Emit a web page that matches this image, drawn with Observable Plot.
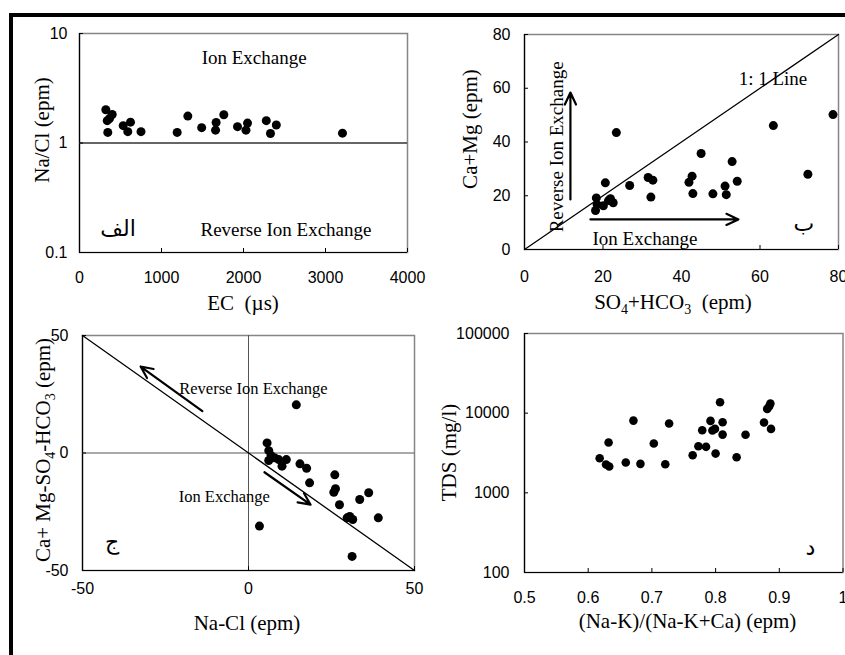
<!DOCTYPE html>
<html><head><meta charset="utf-8">
<script src="https://cdn.jsdelivr.net/npm/d3@7"></script>
<script src="https://cdn.jsdelivr.net/npm/@observablehq/plot@0.6"></script>
<style>
html,body{margin:0;padding:0;background:#fff;}
#wrap{position:relative;width:845px;height:655px;overflow:hidden;background:#fff;}
#wrap svg{position:absolute;left:0;top:0;}
.bt{position:absolute;left:9px;top:13px;width:836px;height:4px;background:#000;}
.bl{position:absolute;left:9px;top:13px;width:4px;height:642px;background:#000;}
</style></head><body><div id="wrap"><div class="bt"></div><div class="bl"></div></div>
<script>
// ---------- data ----------
// Panel الف : Na/Cl vs EC
const ecA   = [321, 399, 338, 345, 366, 533, 622, 589, 750, 1191, 1321, 1490, 1666, 1659, 1760, 1927, 2049, 2030, 2278, 2400, 2329, 3207];
const naClA = [2.01, 1.82, 1.60, 1.25, 1.67, 1.44, 1.55, 1.27, 1.27, 1.25, 1.76, 1.38, 1.54, 1.31, 1.81, 1.41, 1.52, 1.31, 1.60, 1.46, 1.22, 1.23];
const xTicksA = [0, 1000, 2000, 3000, 4000];
const yTicksA = [0.1, 1, 10];

// Panel ب : Ca+Mg vs SO4+HCO3
const so4hco3B = [23.4, 63.4, 78.6, 45.0, 52.9, 72.2, 31.5, 32.7, 26.8, 20.6, 42.7, 41.9, 54.2, 51.1, 42.9, 48.0, 51.4, 32.2, 18.3, 18.1, 18.5, 20.1, 21.9, 22.6, 21.4];
const caMgB    = [43.5, 46.1, 50.2, 35.7, 32.7, 28.0, 26.8, 25.8, 23.8, 24.8, 27.3, 25.0, 25.4, 23.6, 20.8, 20.7, 20.4, 19.5, 19.2, 14.5, 16.7, 16.3, 18.9, 17.4, 18.2];
const ticksB = [0, 20, 40, 60, 80];
const lineB = [0, 80];

// Panel ج : (Ca+Mg-SO4-HCO3) vs (Na-Cl)
const naClC = [14.4, 5.6, 6.1, 6.8, 6.1, 7.8, 9.1, 10.1, 11.4, 15.5, 17.5, 18.4, 26.0, 26.2, 25.7, 27.4, 33.5, 36.2, 39.1, 29.7, 30.5, 31.4, 31.2, 3.3];
const cmshC = [20.5, 4.3, 1.0, -1.1, -3.2, -2.0, -2.8, -5.6, -2.8, -4.6, -6.5, -12.7, -9.3, -15.2, -16.7, -22.0, -19.8, -16.9, -27.6, -27.6, -27.0, -28.3, -44.0, -31.1];
const ticksC = [-50, 0, 50];
const lineCx = [-50, 50];
const lineCy = [50, -50];

// Panel د : TDS vs (Na-K)/(Na-K+Ca)
const ratioD = [0.618, 0.628, 0.633, 0.632, 0.659, 0.671, 0.682, 0.703, 0.721, 0.727, 0.764, 0.773, 0.785, 0.779, 0.792, 0.795, 0.799, 0.800, 0.807, 0.811, 0.811, 0.833, 0.847, 0.876, 0.881, 0.886, 0.887, 0.884];
const tdsD   = [2717, 2265, 2138, 4275, 2398, 8070, 2311, 4160, 2286, 7420, 2965, 3848, 3780, 6110, 8000, 6050, 6350, 3110, 13700, 7690, 5380, 2800, 5350, 7620, 11320, 13180, 6350, 12100];
const xTicksD = [0.5, 0.6, 0.7, 0.8, 0.9, 1];
const yTicksD = [100, 1000, 10000, 100000];

// annotations (data coordinates)
const notesA = [{x: 2130, y: 6.0, t: "Ion Exchange"}, {x: 2518, y: 0.161, t: "Reverse Ion Exchange"}];
const letterA = [{x: 470, y: 0.164, t: "الف"}];
const notesB = [{x: 63.3, y: 63.3, t: "1: 1 Line", r: 0}, {x: 30.7, y: 4.0, t: "Ion Exchange", r: 0}, {x: 8.3, y: 38.2, t: "Reverse Ion Exchange", r: -90}];
const letterB = [{x: 71.2, y: 9.6, t: "ب"}];
const arrowsB = [{x1: 11.7, y1: 18.6, x2: 11.7, y2: 58.4}, {x1: 16.8, y1: 11.2, x2: 54.5, y2: 11.2}];
const notesC = [{x: 1.5, y: 27.3, t: "Reverse Ion Exchange"}, {x: -7.3, y: -18.8, t: "Ion Exchange"}];
const letterC = [{x: -41.1, y: -38, t: "ج"}];
const arrowsC = [{x1: -13.9, y1: 17.8, x2: -32.5, y2: 36.8}, {x1: 4.8, y1: -8.2, x2: 18.7, y2: -22}];
const letterD = [{x: 0.949, y: 202, t: "د"}];

// ---------- drawing ----------
const W = 845, H = 655;
const SANS = "Liberation Sans, Arial, sans-serif";
const SERIF = "Liberation Serif, 'Times New Roman', serif";
const ARAB = "'DejaVu Sans', 'Noto Sans', sans-serif";
const fmt = d => String(d);

function axes(xT, yT, xPad, yPad) {
  return [
    Plot.axisX(xT, {tickSize: 4, dy: -4, tickFormat: () => "", label: null}),
    Plot.axisY(yT, {tickSize: 4, dx: 4, tickFormat: () => "", label: null}),
    Plot.axisX(xT, {tickSize: 0, tickPadding: xPad, tickFormat: fmt, fontSize: 16, fontFamily: SANS, fill: "#000", label: null}),
    Plot.axisY(yT, {tickSize: 0, tickPadding: yPad, tickFormat: fmt, fontSize: 16, fontFamily: SANS, fill: "#000", label: null})
  ];
}
function pts(xs, ys) { return xs.map((x, i) => ({x, y: ys[i]})); }
function title(svg, x, y, parts, rotate) {
  const t = d3.select(svg).append("text")
    .attr("transform", `translate(${x},${y})` + (rotate ? ` rotate(${rotate})` : ""))
    .attr("text-anchor", "middle")
    .attr("font-family", SERIF).attr("font-size", 21).attr("fill", "#000")
    .style("white-space", "pre");
  let sub = false;
  for (const p of parts) {
    const isSub = Array.isArray(p);
    const s = t.append("tspan").text(isSub ? p[0] : p);
    if (isSub && !sub) { s.attr("dy", 5).attr("font-size", 14); sub = true; }
    else if (isSub) { s.attr("font-size", 14); }
    else if (sub) { s.attr("dy", -5); sub = false; }
  }
}
function frame(xmin, ymin) {
  return [
    Plot.frame({stroke: "#858585", strokeWidth: 1.5}),
    Plot.ruleX([xmin], {stroke: "#000", strokeWidth: 1.2}),
    Plot.ruleY([ymin], {stroke: "#000", strokeWidth: 1.2})
  ];
}
const base = {width: W, height: H, style: {background: "transparent", overflow: "visible"}};
const wrap = document.getElementById("wrap");

// Panel A
const pA = Plot.plot({...base,
  marginLeft: 79, marginRight: W - 407, marginTop: 33, marginBottom: H - 252,
  x: {domain: [0, 4000], label: null},
  y: {type: "log", domain: [0.1, 10], label: null},
  marks: [
    ...frame(0, 0.1),
    Plot.ruleY([1], {stroke: "#333", strokeWidth: 1.3}),
    ...axes(xTicksA, yTicksA, 19, 12),
    Plot.dot(pts(ecA, naClA), {x: "x", y: "y", r: 4.5, fill: "#000"}),
    Plot.text(notesA, {x: "x", y: "y", text: "t", fontFamily: SERIF, fontSize: 19, fill: "#000", textAnchor: "middle", lineAnchor: "middle"}),
    Plot.text(letterA, {x: "x", y: "y", text: "t", fontFamily: ARAB, fontSize: 22, fill: "#000", textAnchor: "middle", lineAnchor: "middle"})
  ]
});
title(pA, 243, 310, ["EC  (µs)"]);
title(pA, 48.5, 130, ["Na/Cl (epm)"], -90);
wrap.appendChild(pA);

// Panel B
const pB = Plot.plot({...base,
  marginLeft: 524, marginRight: W - 838, marginTop: 34, marginBottom: H - 249,
  x: {domain: [0, 80], label: null},
  y: {domain: [0, 80], label: null},
  marks: [
    ...frame(0, 0),
    ...axes(ticksB, ticksB, 21, 14),
    Plot.line(lineB, {x: d => d, y: d => d, stroke: "#000", strokeWidth: 1.3}),
    Plot.arrow(arrowsB, {x1: "x1", y1: "y1", x2: "x2", y2: "y2", stroke: "#000", strokeWidth: 2.2, headLength: 9, headAngle: 50}),
    Plot.dot(pts(so4hco3B, caMgB), {x: "x", y: "y", r: 4.5, fill: "#000"}),
    Plot.text(notesB, {x: "x", y: "y", text: "t", rotate: "r", fontFamily: SERIF, fontSize: 19, fill: "#000", textAnchor: "middle", lineAnchor: "middle"}),
    Plot.text(letterB, {x: "x", y: "y", text: "t", fontFamily: ARAB, fontSize: 22, fill: "#000", textAnchor: "middle", lineAnchor: "middle"})
  ]
});
title(pB, 673, 308.5, ["SO", ["4"], "+HCO", ["3"], "  (epm)"]);
title(pB, 477, 129, ["Ca+Mg (epm)"], -90);
wrap.appendChild(pB);

// Panel C
const pC = Plot.plot({...base,
  marginLeft: 82, marginRight: W - 414, marginTop: 335, marginBottom: H - 570,
  x: {domain: [-50, 50], label: null},
  y: {domain: [-50, 50], label: null},
  marks: [
    ...frame(-50, -50),
    Plot.ruleX([0], {stroke: "#555", strokeWidth: 1}),
    Plot.ruleY([0], {stroke: "#555", strokeWidth: 1}),
    ...axes(ticksC, ticksC, 12, 14),
    Plot.line(lineCx.map((x, i) => ({x, y: lineCy[i]})), {x: "x", y: "y", stroke: "#000", strokeWidth: 1.3}),
    Plot.arrow(arrowsC, {x1: "x1", y1: "y1", x2: "x2", y2: "y2", stroke: "#000", strokeWidth: 2.2, headLength: 9, headAngle: 50}),
    Plot.dot(pts(naClC, cmshC), {x: "x", y: "y", r: 4.5, fill: "#000"}),
    Plot.text(notesC, {x: "x", y: "y", text: "t", fontFamily: SERIF, fontSize: 16.5, fill: "#000", textAnchor: "middle", lineAnchor: "middle"}),
    Plot.text(letterC, {x: "x", y: "y", text: "t", fontFamily: ARAB, fontSize: 22, fill: "#000", textAnchor: "middle", lineAnchor: "middle"})
  ]
});
title(pC, 247, 630, ["Na-Cl (epm)"]);
title(pC, 50, 450, ["Ca+ Mg-SO", ["4"], "-HCO", ["3"], " (epm)"], -90);
wrap.appendChild(pC);

// Panel D
const pD = Plot.plot({...base,
  marginLeft: 524, marginRight: W - 842.5, marginTop: 333, marginBottom: H - 572,
  x: {domain: [0.5, 1], label: null},
  y: {type: "log", domain: [100, 100000], label: null},
  marks: [
    ...frame(0.5, 100),
    ...axes(xTicksD, yTicksD, 19, 15),
    Plot.dot(pts(ratioD, tdsD), {x: "x", y: "y", r: 4.3, fill: "#000"}),
    Plot.text(letterD, {x: "x", y: "y", text: "t", fontFamily: ARAB, fontSize: 22, fill: "#000", textAnchor: "middle", lineAnchor: "middle"})
  ]
});
title(pD, 687.5, 628, ["(Na-K)/(Na-K+Ca) (epm)"]);
title(pD, 456, 452.5, ["TDS (mg/l)"], -90);
wrap.appendChild(pD);
</script>
</body></html>
